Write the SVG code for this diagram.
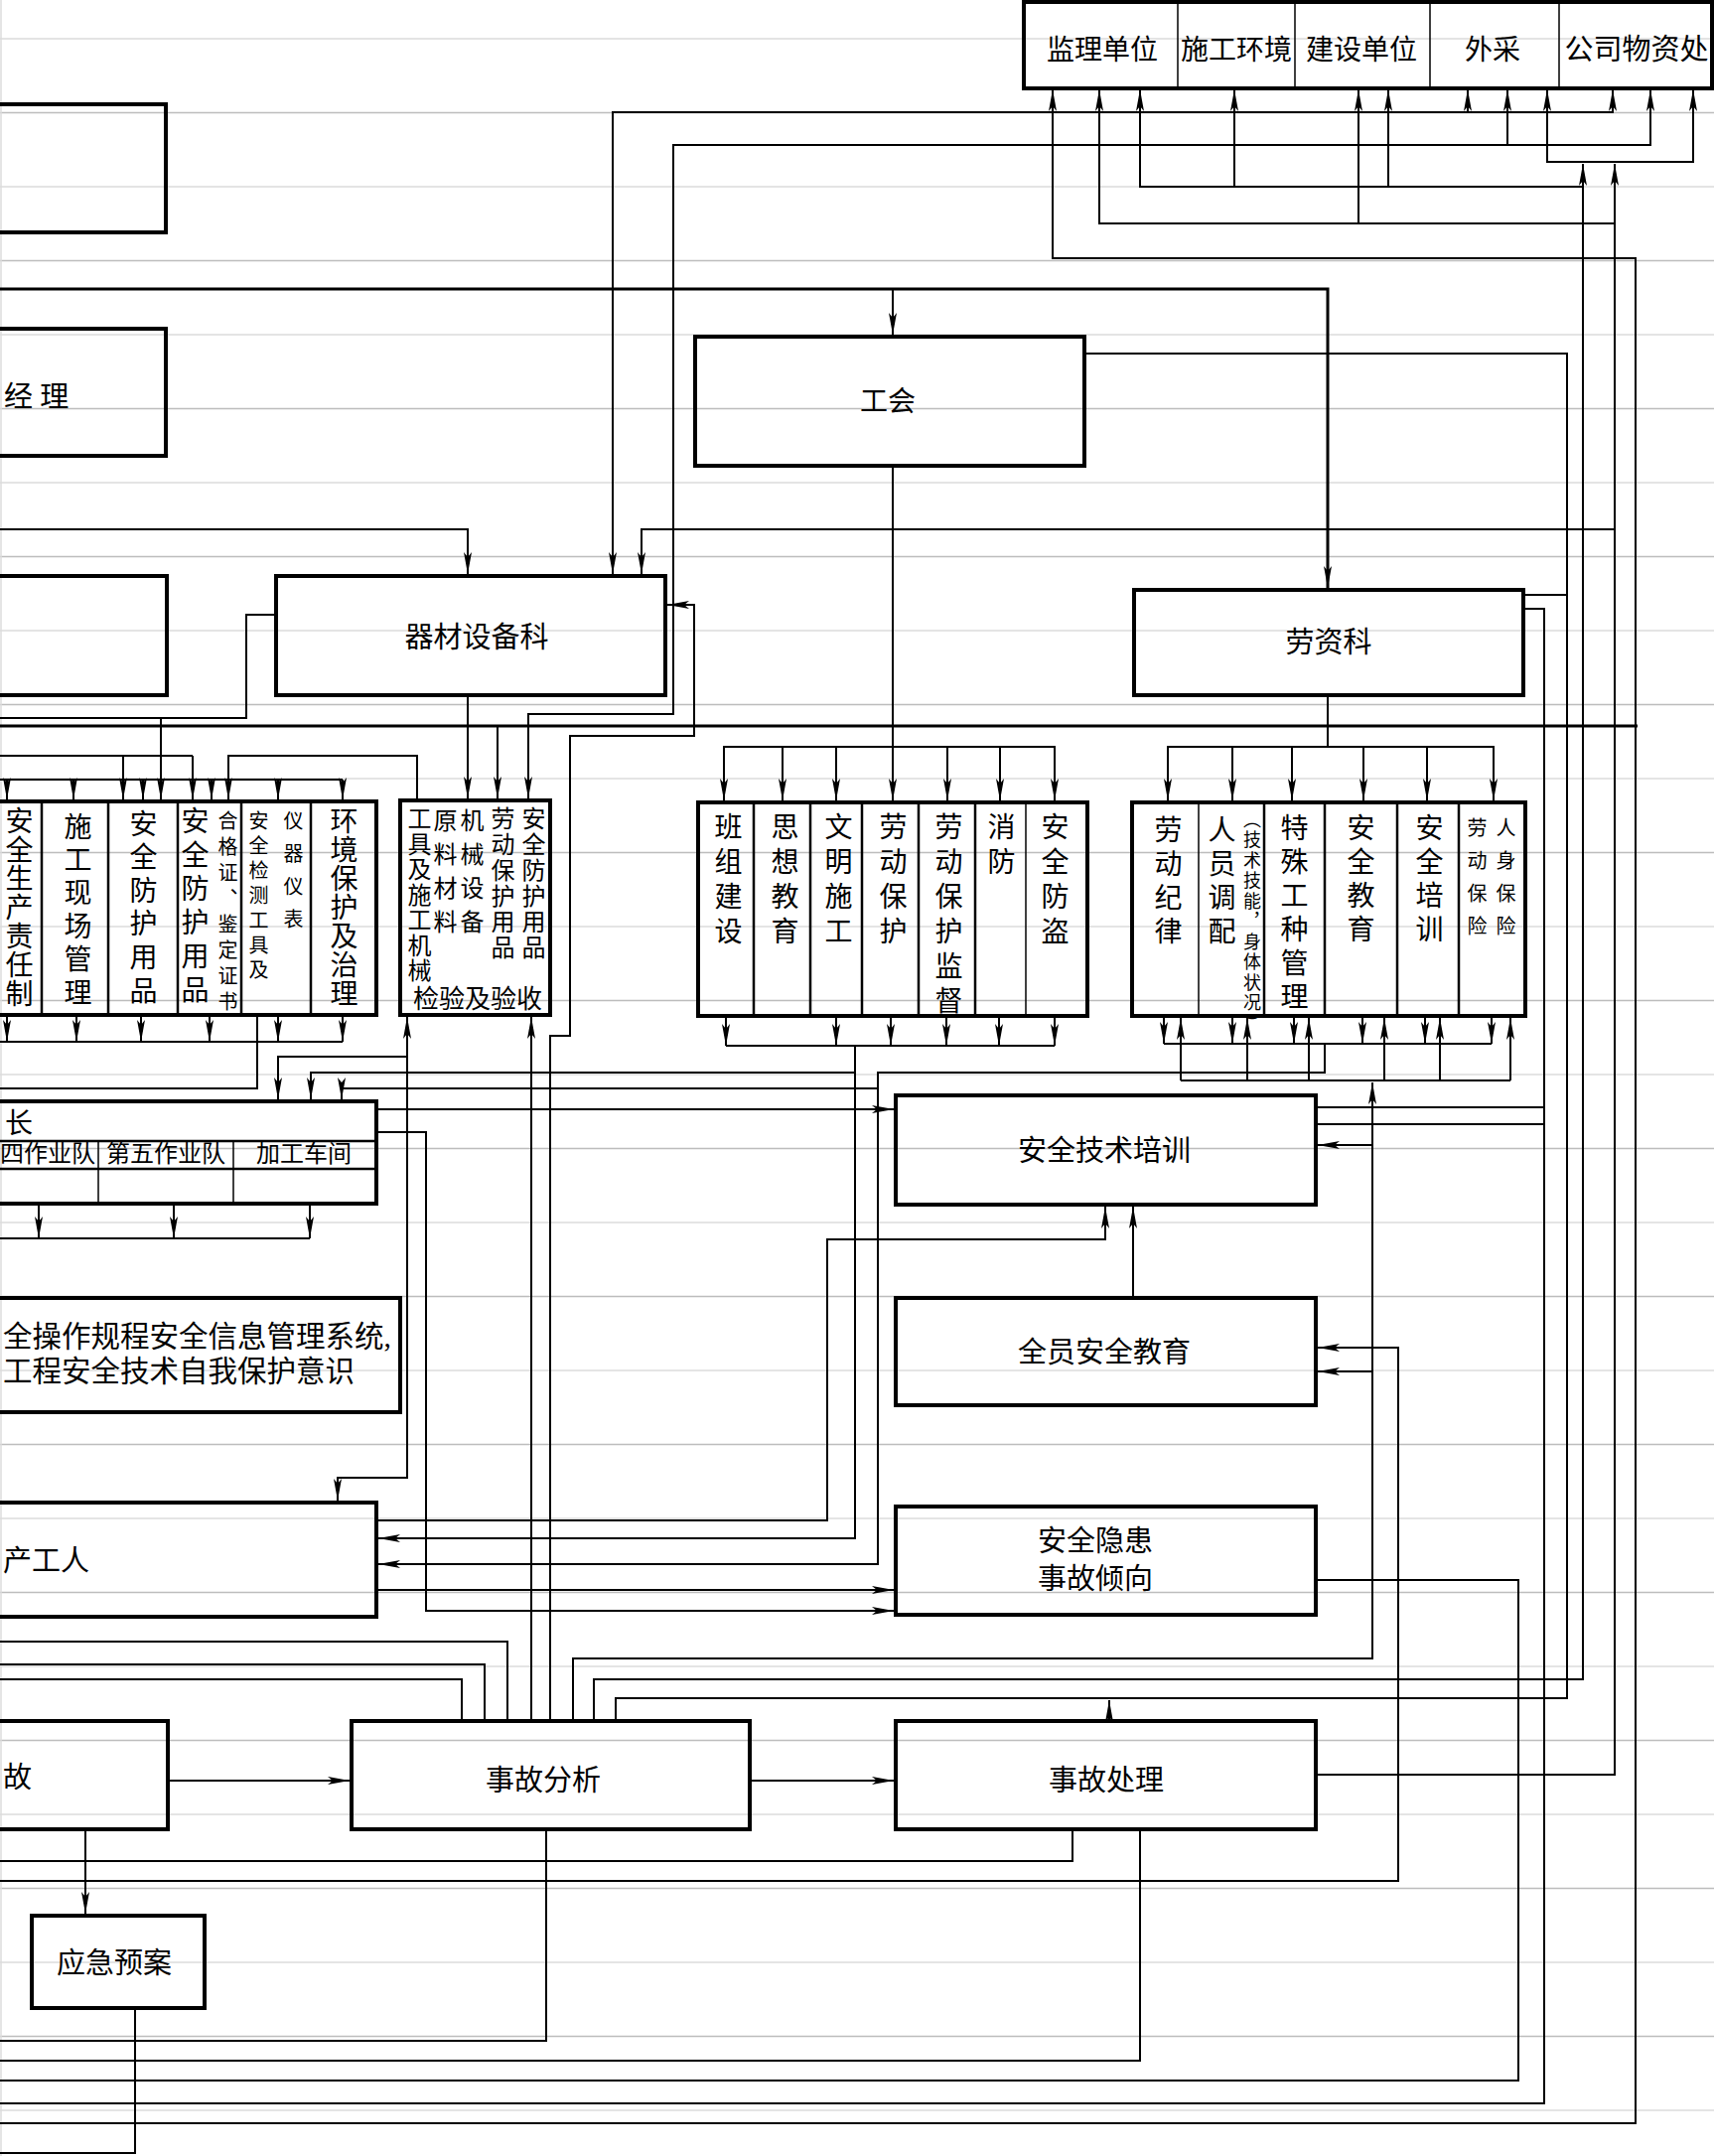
<svg xmlns="http://www.w3.org/2000/svg" width="1726" height="2171" viewBox="0 0 1726 2171">
<style>
.bg{stroke-width:1.5;fill:none}
.g1{stroke:#bdbdbd}.g2{stroke:#dcdcdc}
.box{fill:none;stroke:#000;stroke-width:4}
.div{stroke:#000;stroke-width:2.5;fill:none}
.dt{stroke:#000;stroke-width:1.5;fill:none}
.c path{fill:none;stroke:#000;stroke-width:2}
.c path.k{stroke-width:3}
.ae{marker-end:url(#ah)}
.as{marker-start:url(#ah)}
.ab{marker-start:url(#ah);marker-end:url(#ah)}
text{font-family:"Liberation Serif","Noto Sans CJK SC",serif;fill:#000}
.h{dominant-baseline:central;text-anchor:middle}
.hl{dominant-baseline:central;text-anchor:start}
.v{writing-mode:vertical-rl}
</style>
<defs>
<marker id="ah" markerUnits="userSpaceOnUse" markerWidth="24" markerHeight="10" refX="22" refY="5" orient="auto-start-reverse" overflow="visible">
<path d="M0,1 L22,5 L0,9 L5,5 Z" fill="#000"/>
</marker>
</defs>
<rect width="1726" height="2171" fill="#fff"/>
<g id="rules" class="bg">
<path class="g2" d="M0,39H1726M0,188H1726M0,337H1726M0,486H1726M0,635H1726M0,784H1726M0,933H1726M0,1082H1726M0,1231H1726M0,1380H1726M0,1529H1726M0,1678H1726M0,1827H1726M0,1976H1726M0,2125H1726"/>
<path class="g1" d="M0,113.5H1726M0,262.5H1726M0,411.5H1726M0,560.5H1726M0,709.5H1726M0,858.5H1726M0,1007.5H1726M0,1156.5H1726M0,1305.5H1726M0,1454.5H1726M0,1603.5H1726M0,1752.5H1726M0,1901.5H1726M0,2050.5H1726"/>
<path class="g2" d="M1,0V2171"/>
</g>

<g id="nodes">
<g id="n-top">
<rect class="box" x="1031" y="2" width="693" height="87"/>
<path class="dt" d="M1186,2V89M1304,2V89M1440,2V89M1570,2V89"/>
<text class="h" x="1110" y="50" font-size="28">监理单位</text>
<text class="h" x="1245" y="50" font-size="28">施工环境</text>
<text class="h" x="1371" y="50" font-size="28">建设单位</text>
<text class="h" x="1503" y="50" font-size="28">外采</text>
<text class="h" x="1648" y="50" font-size="29">公司物资处</text>
</g>
<g id="n-boxA"><rect class="box" x="-10" y="105" width="177" height="129"/></g>
<g id="n-jingli"><rect class="box" x="-10" y="331" width="177" height="128"/>
<text class="hl" x="4" y="400" font-size="29">经 理</text></g>
<g id="n-boxC"><rect class="box" x="-10" y="580" width="178" height="120"/></g>
<g id="n-qicai"><rect class="box" x="278" y="580" width="392" height="120"/>
<text class="h" x="480" y="642" font-size="29">器材设备科</text></g>
<g id="n-gonghui"><rect class="box" x="700" y="339" width="392" height="130"/>
<text class="h" x="894" y="404" font-size="28">工会</text></g>
<g id="n-laozi"><rect class="box" x="1142" y="594" width="392" height="106"/>
<text class="h" x="1338" y="647" font-size="29">劳资科</text></g>

<g id="n-grp1">
<rect class="box" x="-10" y="807" width="389" height="215"/>
<path class="div" d="M42,807V1022M109,807V1022M179,807V1022M243,807V1022M313,807V1022"/>
<text class="v" x="17" y="812" font-size="28" letter-spacing="1">安全生产责任制</text>
<text class="v" x="76" y="818" font-size="28" letter-spacing="5.4">施工现场管理</text>
<text class="v" x="142" y="815" font-size="28" letter-spacing="5.6">安全防护用品</text>
<text class="v" x="194" y="812" font-size="28" letter-spacing="6">安全防护用品</text>
<text class="v" x="228" y="816" font-size="20" letter-spacing="6">合格证、鉴定证书</text>
<text class="v" x="259" y="816" font-size="20" letter-spacing="5">安全检测工具及</text>
<text class="v" x="294" y="816" font-size="20" letter-spacing="13">仪器仪表</text>
<text class="v" x="344" y="812" font-size="28" letter-spacing="1">环境保护及治理</text>
</g>
<g id="n-grp2">
<rect class="box" x="403" y="806" width="151" height="216"/>
<text class="v" x="420" y="812" font-size="24" letter-spacing="1.5">工具及施工机械</text>
<text class="v" x="446" y="814" font-size="24" letter-spacing="10">原料材料</text>
<text class="v" x="473" y="814" font-size="24" letter-spacing="10">机械设备</text>
<text class="v" x="504" y="812" font-size="24" letter-spacing="2">劳动保护用品</text>
<text class="v" x="535" y="812" font-size="24" letter-spacing="2">安全防护用品</text>
<text class="h" x="481" y="1006" font-size="26">检验及验收</text>
</g>
<g id="n-grp3">
<rect class="box" x="703" y="808" width="392" height="215"/>
<path class="div" d="M759,808V1023M816,808V1023M868,808V1023M925,808V1023M982,808V1023"/>
<path class="dt" d="M1033,808V1023"/>
<text class="v" x="731" y="818" font-size="28" letter-spacing="7">班组建设</text>
<text class="v" x="788" y="818" font-size="28" letter-spacing="7">思想教育</text>
<text class="v" x="842" y="818" font-size="28" letter-spacing="7">文明施工</text>
<text class="v" x="897" y="818" font-size="28" letter-spacing="7">劳动保护</text>
<text class="v" x="953" y="818" font-size="28" letter-spacing="7">劳动保护监督</text>
<text class="v" x="1006" y="818" font-size="28" letter-spacing="7">消防</text>
<text class="v" x="1060" y="818" font-size="28" letter-spacing="7">安全防盗</text>
</g>
<g id="n-grp4">
<rect class="box" x="1140" y="808" width="396" height="215"/>
<path class="dt" d="M1207,808V1023"/>
<path class="div" d="M1273,808V1023M1334,808V1023M1407,808V1023M1469,808V1023"/>
<text class="v" x="1174" y="821" font-size="28" letter-spacing="6">劳动纪律</text>
<text class="v" x="1228" y="821" font-size="28" letter-spacing="6">人员调配</text>
<text class="v" x="1259" y="816" font-size="18" letter-spacing="2.5">（技术技能，身体状况）</text>
<text class="v" x="1301" y="819" font-size="28" letter-spacing="6">特殊工种管理</text>
<text class="v" x="1368" y="819" font-size="28" letter-spacing="6">安全教育</text>
<text class="v" x="1437" y="819" font-size="28" letter-spacing="6">安全培训</text>
<text class="v" x="1486" y="823" font-size="20" letter-spacing="13">劳动保险</text>
<text class="v" x="1515" y="823" font-size="20" letter-spacing="13">人身保险</text>
</g>
<g id="n-banzu">
<rect class="box" x="-10" y="1109" width="389" height="103"/>
<path class="div" d="M-10,1149H379M-10,1177H379"/>
<path class="dt" d="M99,1149V1212M235,1149V1212"/>
<text class="hl" x="5" y="1131" font-size="28">长</text>
<text class="h" x="48" y="1162" font-size="24">四作业队</text>
<text class="h" x="167" y="1162" font-size="24">第五作业队</text>
<text class="h" x="306" y="1162" font-size="24">加工车间</text>
</g>
<g id="n-jishu"><rect class="box" x="902" y="1103" width="423" height="110"/>
<text class="h" x="1112" y="1159" font-size="29">安全技术培训</text></g>
<g id="n-quanyuan"><rect class="box" x="902" y="1307" width="423" height="108"/>
<text class="h" x="1112" y="1362" font-size="29">全员安全教育</text></g>
<g id="n-caozuo"><rect class="box" x="-10" y="1307" width="413" height="115"/>
<text class="hl" x="3" y="1346" font-size="29.5">全操作规程安全信息管理系统,</text>
<text class="hl" x="3" y="1381" font-size="29.5">工程安全技术自我保护意识</text></g>
<g id="n-gongren"><rect class="box" x="-10" y="1513" width="389" height="115"/>
<text class="hl" x="3" y="1572" font-size="29">产工人</text></g>
<g id="n-yinhuan"><rect class="box" x="902" y="1517" width="423" height="109"/>
<text class="h" x="1103" y="1552" font-size="29">安全隐患</text>
<text class="h" x="1103" y="1590" font-size="29">事故倾向</text></g>
<g id="n-shigu"><rect class="box" x="-10" y="1733" width="179" height="109"/>
<text class="hl" x="3" y="1790" font-size="29">故</text></g>
<g id="n-fenxi"><rect class="box" x="354" y="1733" width="401" height="109"/>
<text class="h" x="547" y="1793" font-size="29">事故分析</text></g>
<g id="n-chuli"><rect class="box" x="902" y="1733" width="423" height="109"/>
<text class="h" x="1114" y="1793" font-size="29">事故处理</text></g>
<g id="n-yingji"><rect class="box" x="32" y="1929" width="174" height="93"/>
<text class="h" x="115" y="1977" font-size="29">应急预案</text></g>
</g>

<g id="connectors" class="c">
<path class="ab" d="M1624,90V113H617V578"/>
<path class="ae" d="M1478,113V90"/>
<path class="ab" d="M1662,90V146H678V719H532V804"/>
<path class="ae" d="M1518,146V90"/>
<path class="ab" d="M1558,90V163H1705V90"/>
<path class="ae" d="M598,1733V1691H1594V165"/>
<path class="as" d="M1148,90V188H1594"/>
<path class="ae" d="M1243,188V90"/>
<path class="ae" d="M1398,188V90"/>
<path class="ae" d="M1325,1787H1626V165"/>
<path class="as" d="M1107,90V225H1626"/>
<path class="ae" d="M1368,225V90"/>
<path class="ae" d="M1626,533H646V578"/>
<path class="as" d="M1060,90V260H1647V2138H0"/>
<path class="ae k" d="M0,291H1337V592"/>
<path class="ae" d="M899,291V337"/>
<path d="M1092,356H1578V1710H620V1733"/>
<path d="M1534,599H1578"/>
<path class="ae" d="M1117,1733V1712"/>
<path class="ae" d="M899,469V806"/>
<path class="ab" d="M729,806V752H1062V806"/>
<path class="ae" d="M788,752V806"/>
<path class="ae" d="M842,752V806"/>
<path class="ae" d="M954,752V806"/>
<path class="ae" d="M1007,752V806"/>
<path d="M1337,700V752"/>
<path class="ab" d="M1176,806V752H1504V806"/>
<path class="ae" d="M1241,752V806"/>
<path class="ae" d="M1301,752V806"/>
<path class="ae" d="M1373,752V806"/>
<path class="ae" d="M1437,752V806"/>
<path class="ae" d="M731,1025V1053"/>
<path class="ae" d="M842,1025V1053"/>
<path class="ae" d="M897,1025V1053"/>
<path class="ae" d="M953,1025V1053"/>
<path class="ae" d="M1006,1025V1053"/>
<path class="ae" d="M1062,1025V1053"/>
<path d="M731,1053H1062"/>
<path class="ae" d="M861,1053V1549H381"/>
<path class="ae" d="M861,1080H313V1107"/>
<path class="ae" d="M1172,1025V1051"/>
<path class="ae" d="M1241,1025V1051"/>
<path class="ae" d="M1303,1025V1051"/>
<path class="ae" d="M1372,1025V1051"/>
<path class="ae" d="M1435,1025V1051"/>
<path class="ae" d="M1502,1025V1051"/>
<path d="M1172,1051H1502"/>
<path class="ae" d="M1334,1051V1080H884V1575H381"/>
<path class="ae" d="M884,1096H344V1107"/>
<path class="ae" d="M1189,1088V1025"/>
<path class="ae" d="M1256,1088V1025"/>
<path class="ae" d="M1318,1088V1025"/>
<path class="ae" d="M1394,1088V1025"/>
<path class="ae" d="M1450,1088V1025"/>
<path class="ae" d="M1521,1088V1025"/>
<path d="M1189,1088H1521"/>
<path class="ae" d="M577,1733V1670H1382V1090"/>
<path class="ae" d="M1382,1153H1327"/>
<path class="ae" d="M1382,1381H1327"/>
<path d="M0,785H345"/>
<path class="ae" d="M7,785V805"/>
<path class="ae" d="M74,785V805"/>
<path class="ae" d="M144,785V805"/>
<path class="ae" d="M213,785V805"/>
<path class="ae" d="M280,785V805"/>
<path class="ae" d="M345,785V805"/>
<path d="M0,761H194"/>
<path class="ae" d="M124,761V805"/>
<path class="ae" d="M194,761V805"/>
<path d="M278,619H248V723H0"/>
<path class="ae" d="M162,723V805"/>
<path class="as" d="M230,805V761H420V806"/>
<path class="ae" d="M7,1024V1049"/>
<path class="ae" d="M77,1024V1049"/>
<path class="ae" d="M142,1024V1049"/>
<path class="ae" d="M211,1024V1049"/>
<path class="ae" d="M280,1024V1049"/>
<path class="ae" d="M345,1024V1049"/>
<path d="M0,1049H345"/>
<path d="M259,1022V1096H0"/>
<path class="ae" d="M0,533H471V578"/>
<path class="ae" d="M471,700V804"/>
<path class="k" d="M0,731H1649"/>
<path class="ae" d="M501,731V804"/>
<path class="ab" d="M340,1511V1488H410V1024"/>
<path class="ae" d="M410,1064H280V1107"/>
<path class="ae" d="M535,1733V1024"/>
<path class="ae" d="M554,1733V1043H574V741H699V609H672"/>
<path class="ae" d="M379,1117H900"/>
<path class="ae" d="M379,1140H429V1622H900"/>
<path class="ae" d="M39,1214V1247"/>
<path class="ae" d="M175,1214V1247"/>
<path class="ae" d="M312,1214V1247"/>
<path d="M0,1247H312"/>
<path class="ae" d="M379,1531H833V1248H1113V1215"/>
<path class="ae" d="M379,1601H900"/>
<path class="ae" d="M1141,1305V1215"/>
<path class="ae" d="M0,1894H1408V1357H1327"/>
<path d="M1325,1115H1555"/>
<path d="M1534,613H1555V2118H0"/>
<path d="M1325,1132H1555"/>
<path d="M1325,1591H1529V2095H0"/>
<path class="ae" d="M169,1793H352"/>
<path class="ae" d="M755,1793H900"/>
<path class="ae" d="M86,1842V1927"/>
<path d="M0,1653H511V1733"/>
<path d="M0,1676H488V1733"/>
<path d="M0,1691H465V1733"/>
<path d="M550,1842V2055H0"/>
<path d="M1080,1842V1874H0"/>
<path d="M1148,1842V2075H0"/>
<path d="M136,2022V2168H0"/>
</g>
</svg>
